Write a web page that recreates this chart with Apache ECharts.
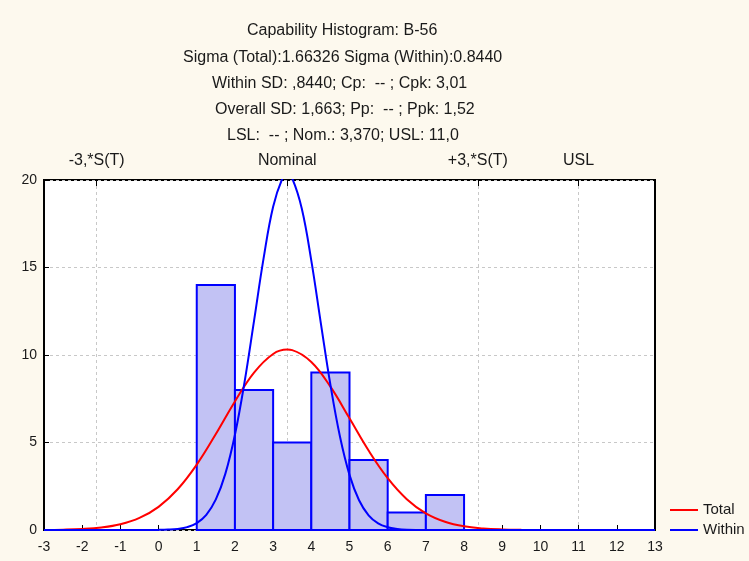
<!DOCTYPE html>
<html>
<head>
<meta charset="utf-8">
<script src="https://cdn.jsdelivr.net/npm/echarts@6/dist/echarts.min.js"></script>
<style>
html,body{margin:0;padding:0;background:#fdf9ee;}
#main{width:749px;height:561px;}
</style>
</head>
<body>
<div id="main"></div>
<script>
// ---- data ----
const titleLines = [
  'Capability Histogram: B-56',
  'Sigma (Total):1.66326 Sigma (Within):0.8440',
  'Within SD: ,8440; Cp:  -- ; Cpk: 3,01',
  'Overall SD: 1,663; Pp:  -- ; Ppk: 1,52',
  'LSL:  -- ; Nom.: 3,370; USL: 11,0'
];
const binStart = [1, 2, 3, 4, 5, 6, 7];
const binEnd   = [2, 3, 4, 5, 6, 7, 8];
const counts   = [14, 8, 5, 9, 4, 1, 2];

const specValues = [-1.62, 3.37, 8.36, 11];
const specLabels = ['-3,*S(T)', 'Nominal', '+3,*S(T)', 'USL'];

const totalX = [-3, -2.5, -2, -1.5, -1, -0.5, 0, 0.5, 1, 1.5, 2, 2.5, 3, 3.37, 3.5, 4, 4.5, 5, 5.5, 6, 6.5, 7, 7.5, 8, 8.5, 9, 9.5, 10, 10.5, 11, 12, 13];
const totalY = [0.007, 0.020, 0.056, 0.142, 0.327, 0.688, 1.324, 2.328, 3.737, 5.482, 7.347, 8.995, 10.06, 10.31, 10.28, 9.60, 8.19, 6.38, 4.54, 2.96, 1.76, 0.95, 0.47, 0.21, 0.09, 0.034, 0.012, 0.004, 0.001, 0, 0, 0];

const withinX = [-3, -2, -1, -0.5, 0, 0.25, 0.5, 0.75, 1, 1.25, 1.5, 1.75, 2, 2.25, 2.5, 2.75, 3, 3.25, 3.37, 3.5, 3.75, 4, 4.25, 4.5, 4.75, 5, 5.25, 5.5, 5.75, 6, 6.25, 6.5, 7, 7.5, 8, 9, 10, 11, 12, 13];
const withinY = [0, 0, 0, 0, 0.007, 0.022, 0.063, 0.164, 0.394, 0.867, 1.746, 3.222, 5.444, 8.429, 11.95, 15.52, 18.47, 20.13, 20.33, 20.09, 18.37, 15.39, 11.81, 8.30, 5.34, 3.15, 1.70, 0.84, 0.38, 0.158, 0.060, 0.021, 0.002, 0, 0, 0, 0, 0, 0, 0];

// ---- build ----
const histData = binStart.map((s, i) => [s, binEnd[i], counts[i]]);
const totalData = totalX.map((x, i) => [x, totalY[i]]);
const withinData = withinX.map((x, i) => [x, withinY[i]]);

const titlePos = [[247, 32], [183, 59], [212, 85], [215, 111], [227, 137]];
const FONT = 'Liberation Sans, Arial, sans-serif';
const TXT = '#1a1a1a';

const chart = echarts.init(document.getElementById('main'), null, {renderer: 'canvas'});
chart.setOption({
  backgroundColor: '#fdf9ee',
  animation: false,
  textStyle: {fontFamily: FONT},
  graphic: titleLines.map((t, i) => ({
    type: 'text', left: titlePos[i][0], top: titlePos[i][1] - 9,
    style: {text: t, fontSize: 16, fontFamily: FONT, fill: TXT}
  })),
  grid: {left: 44, right: 94, top: 180, bottom: 31, show: true,
         backgroundColor: '#ffffff', borderColor: '#000000', borderWidth: 2},
  legend: {
    orient: 'vertical', left: 665, top: 497, itemWidth: 28, itemHeight: 2,
    itemGap: 4, icon: 'rect',
    data: ['Total', 'Within'],
    textStyle: {fontSize: 15, color: TXT, fontFamily: FONT, lineHeight: 16}
  },
  xAxis: [{
    type: 'value', min: -3, max: 13, interval: 1, position: 'bottom',
    axisLine: {show: false, onZero: false},
    axisTick: {show: true, inside: true, length: 5, lineStyle: {color: '#000', width: 1}},
    axisLabel: {fontSize: 14, color: TXT, margin: 10, fontFamily: FONT},
    splitLine: {show: false}
  }, {
    type: 'value', min: -3, max: 13, position: 'top',
    axisLine: {show: false, onZero: false},
    axisTick: {show: true, inside: true, length: 6, customValues: specValues, lineStyle: {color: '#000', width: 1}},
    axisLabel: {show: true, customValues: specValues, fontSize: 16, color: TXT, margin: 11, fontFamily: FONT,
      formatter: function (v) {
        for (let i = 0; i < specValues.length; i++) if (Math.abs(v - specValues[i]) < 1e-6) return specLabels[i];
        return '';
      }},
    splitLine: {show: true, lineStyle: {color: '#c8c8c8', type: [3, 3], width: 1}}
  }],
  yAxis: {
    type: 'value', min: 0, max: 20, interval: 5, position: 'left',
    axisLine: {show: false, onZero: false},
    axisTick: {show: true, inside: true, length: 5, lineStyle: {color: '#000', width: 1}},
    axisLabel: {fontSize: 14, color: TXT, margin: 7, fontFamily: FONT},
    splitLine: {show: true, lineStyle: {color: '#c8c8c8', type: [3, 3], width: 1}}
  },
  series: [{
    type: 'custom', name: 'hist', xAxisIndex: 0,
    data: histData,
    encode: {x: [0, 1], y: 2},
    renderItem: function (params, api) {
      const p0 = api.coord([api.value(0), api.value(2)]);
      const p1 = api.coord([api.value(1), 0]);
      return {
        type: 'rect',
        shape: {x: p0[0], y: p0[1], width: p1[0] - p0[0], height: p1[1] - p0[1]},
        style: {fill: '#c2c2f4', stroke: '#0000ff', lineWidth: 2}
      };
    },
    z: 2
  }, {
    type: 'line', name: 'Total', xAxisIndex: 0, data: totalData,
    smooth: 0.4, showSymbol: false, symbol: 'none',
    lineStyle: {color: '#ff0000', width: 2}, itemStyle: {color: '#ff0000'}, z: 4
  }, {
    type: 'line', name: 'Within', xAxisIndex: 0, data: withinData,
    smooth: 0.4, showSymbol: false, symbol: 'none',
    lineStyle: {color: '#0000ff', width: 2}, itemStyle: {color: '#0000ff'}, z: 5
  }]
});
</script>
</body>
</html>
